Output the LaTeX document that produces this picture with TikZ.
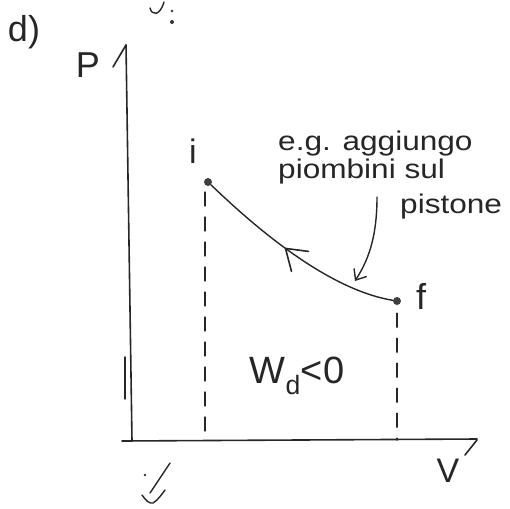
\documentclass[tikz,border=0pt]{standalone}
\usepackage{fontspec}
\setmainfont{Liberation Sans}
\newfontfamily\handwide[FakeStretch=1.17]{Liberation Sans}
\usetikzlibrary{arrows.meta}
\begin{document}
\begin{tikzpicture}[x=1pt,y=-1pt,line cap=round,line join=round,
  ink/.style={draw=black!85,line width=1.4pt},
  axis/.style={draw=black!85,line width=1.6pt},
  guide/.style={draw=black!85,line width=1.3pt,dash pattern=on 14pt off 11pt},
  statept/.style={circle,fill=black!75,inner sep=0pt,minimum size=8pt},
  hand/.style={inner sep=0pt,text=black!85},
  ann/.style={hand,font=\handwide\fontsize{27}{27}\selectfont,anchor=base west}]
\useasboundingbox (0,0) rectangle (510,508);
% fragment at top
\draw[ink] (150,8) .. controls (152,16) and (160,16) .. (164,2);
\fill[black!80] (172,11) circle (1.4pt) (172,22) circle (2pt);
% label d)
\node[hand,font=\fontsize{36}{36}\selectfont] (lab) at (24,32) {d)};
% axes
\coordinate (O) at (132,441);
\coordinate (ytop) at (126,45);
\coordinate (xstart) at (122,441);
\coordinate (xend) at (477,439);
\draw[axis] (O) -- (ytop);
\draw[axis] (ytop) -- ++(-13,22);
\draw[axis] (xstart) -- (xend);
\draw[axis] (465,455) -- (477,440);
\draw[ink] (125,357) -- (125,399);
\node[hand,font=\fontsize{36}{36}\selectfont] (P) at (88,65) {P};
\node[hand,font=\fontsize{34}{34}\selectfont] (V) at (448,471) {V};
% left mark under axis
\fill[black!80] (145,475) circle (1.3pt);
\draw[ink] (170,463) -- (150,493);
\draw[ink] (142,495) .. controls (146,501) and (150,504) .. (153,503) .. controls (158,500) and (162,494) .. (165,490);
% states
\node[statept] (i) at (208,182) {};
\node[statept] (f) at (397,301) {};
\node[hand,font=\fontsize{34}{34}\selectfont] (ilab) at (193,151) {i};
\node[hand,font=\fontsize{36}{36}\selectfont] (flab) at (421,296) {f};
% dashed guides
\coordinate (ib) at (205,440);
\coordinate (fb) at (397,440);
\draw[guide] (205,192) -- (ib);
\draw[guide] (f.south) ++(0,8) -- (fb);
% process curve f -> i
\draw[ink] (f) .. controls (330,290) and (260,232) .. coordinate[pos=0.56] (tip) (i);
\draw[ink,line width=1.6pt] (tip) ++(23,3) -- (tip) -- ++(6,23);
% work label
\node[hand,font=\fontsize{38}{38}\selectfont] (W) at (297,376) {W\textsubscript{d}<0};
% annotation
\node[ann] (a1) at (278,150) {e.g. aggiungo};
\node[ann] (a2) at (278,178) {piombini sul};
\node[ann] (a3) at (400,213) {pistone};
\coordinate (as) at (377,197);
\coordinate (ae) at (355,281);
\draw[ink,-{Straight Barb[length=9pt,width=15pt,line width=1.4pt]}] (as) .. controls (377,240) and (367,262) .. (ae);
\end{tikzpicture}
\end{document}
